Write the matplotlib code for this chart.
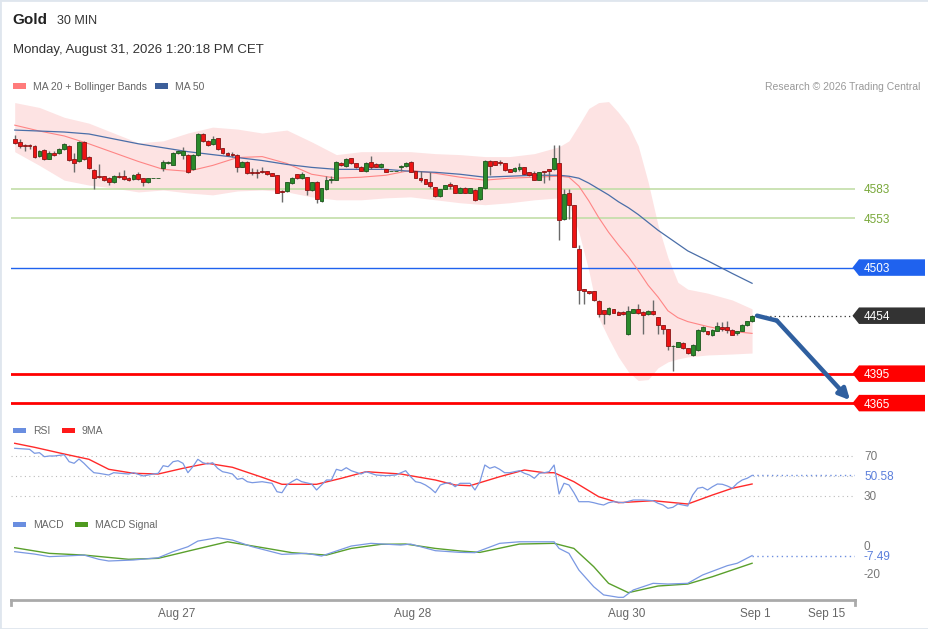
import numpy as np
import matplotlib.pyplot as plt
from matplotlib.patches import Polygon, Rectangle
from matplotlib.transforms import blended_transform_factory

plt.rcParams['font.family'] = ['Liberation Sans', 'DejaVu Sans']

# 30 min candles, Gold
opens = [4634, 4630.5, 4627.5, 4627.5, 4627.2, 4616.5, 4622.5, 4613.8, 4619.5, 4619.2,
         4623.8, 4626.5, 4613.2, 4611.2, 4631.2, 4615.8, 4602.5, 4596.5, 4595.8, 4594.5,
         4590.5, 4596.5, 4596.5, 4593.8, 4593.2, 4598.5, 4593.8, 4590.5, 4594.2, 4594.2,
         4604.5, 4609.8, 4607.8, 4619.2, 4617.8, 4617.8, 4603.2, 4617.8, 4639.2, 4631.8,
         4628.5, 4634.5, 4624.5, 4619.8, 4618.5, 4617.8, 4605.8, 4610.5, 4600.5, 4599.8,
         4601.2, 4601.2, 4599.2, 4597.2, 4580.5, 4580.5, 4589.2, 4597.8, 4593.8, 4595.2,
         4581.8, 4590.5, 4570.5, 4583.2, 4592.5, 4592.5, 4609.8, 4606.5, 4614.5, 4609.2,
         4605.8, 4601.2, 4610.5, 4608.5, 4605.2, 4603.2, 4601.2, 4601.2, 4605.8, 4606.5,
         4610.5, 4601.2, 4593.8, 4593.2, 4590.5, 4585.2, 4575.8, 4583.2, 4587.8, 4587.2,
         4579.2, 4584.5, 4579.2, 4581.8, 4572.5, 4583.8, 4611.8, 4611.2, 4610.5, 4609.2,
         4603.2, 4601.2, 4603.8, 4605.2, 4599.8, 4599.2, 4592.5, 4601.2, 4603.2, 4603.2,
         4609.2, 4552.2, 4578.5, 4566.5, 4521.6, 4480.9, 4478.9, 4478.9, 4469.3, 4459.8,
         4455.7, 4460.5, 4457.8, 4457.8, 4435.4, 4457.1, 4461.1, 4457.8, 4455.7, 4458.5,
         4452.4, 4444.2, 4440.2, 4423.2, 4422.5, 4426.5, 4421.1, 4413.7, 4419.1, 4438.1,
         4438.1, 4434.0, 4438.8, 4442.8, 4442.8, 4439.5, 4436.7, 4438.8, 4444.2, 4448.3]
closes = [4630, 4627.2, 4626.7, 4626.5, 4615.8, 4621.8, 4613.2, 4619.8, 4618, 4623.8,
          4629.2, 4612.5, 4609.8, 4630.5, 4613.8, 4604.5, 4593.8, 4595, 4592.5, 4590.5,
          4596.5, 4595.2, 4593.2, 4592.5, 4597.2, 4593.2, 4589.8, 4593.8, 4594.2, 4594.2,
          4610.5, 4610.2, 4619.8, 4621.5, 4621.8, 4600.5, 4617.8, 4639.2, 4631.8, 4627.8,
          4633.8, 4623.8, 4619.8, 4617.8, 4617.2, 4605.8, 4610.5, 4599.2, 4599.2, 4599.2,
          4599.8, 4598.5, 4596.5, 4579.2, 4580, 4589.8, 4594.5, 4593.8, 4597.8, 4581.8,
          4589.8, 4572.5, 4583.8, 4592.5, 4593, 4610.5, 4607.2, 4613.8, 4609.2, 4605.2,
          4601.8, 4609.8, 4605.2, 4605.8, 4608.5, 4600.5, 4601.2, 4601.2, 4606.5, 4609.8,
          4600.5, 4594.5, 4592.5, 4588.5, 4585.8, 4575.8, 4583.2, 4587.2, 4585.8, 4579.2,
          4584.5, 4579.2, 4583.8, 4571.8, 4585.2, 4611.8, 4606.5, 4607.8, 4609.2, 4602.5,
          4600.5, 4604.5, 4605.8, 4598.5, 4597.2, 4592.5, 4599.8, 4600.5, 4601.8, 4614.5,
          4551.5, 4577.8, 4566.5, 4524.2, 4480.2, 4478.9, 4476.8, 4470.0, 4455.7, 4455.7,
          4461.9, 4457.1, 4455.0, 4455.7, 4458.5, 4460.5, 4456.4, 4454.4, 4459.1, 4455.7,
          4444.2, 4440.2, 4423.2, 4423.2, 4427.2, 4421.1, 4415.7, 4424.5, 4439.5, 4442.8,
          4435.4, 4439.5, 4443.5, 4440.8, 4439.5, 4434.7, 4438.1, 4444.9, 4448.3, 4454.0]
highs = [4638, 4634, 4629, 4628.5, 4628, 4622.5, 4623.5, 4621.8, 4621.8, 4625,
         4630, 4627.5, 4619.5, 4631.5, 4632, 4616.5, 4603.8, 4608.5, 4596.5, 4595.5,
         4597.5, 4599.8, 4602.5, 4595, 4598.5, 4599.8, 4594.5, 4594.5, 4594.2, 4594.2,
         4612.5, 4611, 4620.5, 4623, 4625.8, 4618.5, 4618.5, 4640, 4640, 4633,
         4637.2, 4635, 4625, 4620.5, 4620.5, 4618.5, 4611.5, 4611, 4604.5, 4603.2,
         4605.2, 4601.5, 4599.5, 4597.5, 4581.5, 4590.5, 4595, 4598.5, 4599.8, 4595.5,
         4590.5, 4591, 4584.5, 4595.8, 4595.8, 4611, 4610.5, 4614.5, 4615, 4609.5,
         4606.5, 4610.5, 4616.5, 4609, 4609, 4603.5, 4601.2, 4601.2, 4607.8, 4610.5,
         4611, 4601.5, 4601.2, 4593.5, 4599.8, 4585.5, 4583.5, 4587.5, 4589.8, 4587.5,
         4585, 4585, 4584.5, 4582.5, 4585.5, 4612.5, 4612.5, 4611.5, 4612.5, 4609.5,
         4603.5, 4605, 4609.2, 4605.5, 4600.5, 4601.2, 4600.5, 4601.8, 4603.8, 4627.8,
         4627.8, 4582.5, 4582.5, 4567, 4526.3, 4481.2, 4479.2, 4479.2, 4470, 4460.3,
         4462.4, 4460.8, 4458.3, 4458.3, 4463.9, 4460.8, 4465.9, 4458.3, 4459.8, 4470,
         4452.7, 4444.9, 4440.5, 4423.7, 4427.7, 4427.2, 4421.6, 4425.2, 4440, 4443.5,
         4438.4, 4440, 4447.6, 4447.6, 4448.3, 4440, 4438.8, 4445.6, 4448.6, 4454.7]
lows = [4629, 4625.2, 4621.2, 4623.8, 4615, 4615.5, 4612.5, 4613.2, 4616.5, 4618.5,
        4623, 4611.5, 4599.8, 4610, 4613, 4603.5, 4583.2, 4593.8, 4591.5, 4587.2,
        4589.5, 4593.8, 4592.5, 4591.5, 4592, 4592.5, 4585.8, 4589.5, 4594.2, 4594.2,
        4601.8, 4608.5, 4607, 4618.5, 4613.8, 4599.5, 4602.5, 4617, 4631, 4627,
        4627.5, 4623, 4619, 4617, 4615.8, 4600.5, 4605, 4598.5, 4597.2, 4594.5,
        4599.2, 4597.2, 4595.8, 4578.5, 4569.8, 4579.5, 4588.5, 4593.2, 4593.2, 4577.2,
        4581, 4568.5, 4569.5, 4581.8, 4589.2, 4591.8, 4606.5, 4605.8, 4608.5, 4604.5,
        4601, 4600.5, 4603.8, 4605.2, 4604.5, 4599.8, 4601.2, 4601.2, 4601.8, 4605.8,
        4599.8, 4593.8, 4590.5, 4587.8, 4583.8, 4575.2, 4575.2, 4582.5, 4583.2, 4578.5,
        4578.5, 4578.5, 4578.5, 4571, 4571.8, 4583.2, 4597.5, 4607.2, 4607.8, 4601.8,
        4599.8, 4600.5, 4601.2, 4597.8, 4596.5, 4591.8, 4591.8, 4589.2, 4592.5, 4602.5,
        4530.8, 4551.5, 4552.2, 4523.5, 4465.9, 4465.9, 4476.1, 4469, 4452.4, 4445.6,
        4455, 4456.4, 4454.4, 4455, 4434.7, 4456.4, 4455.7, 4435.4, 4455, 4455,
        4435.4, 4435.4, 4419.1, 4397.4, 4421.8, 4420.4, 4415, 4413, 4418.4, 4437.4,
        4434.7, 4433.4, 4438.1, 4438.1, 4436.1, 4434.1, 4434.7, 4438.1, 4443.5, 4447.6]

# MA 20 + Bollinger bands and MA 50, read at these candle numbers
bb_idx = [0, 5, 10, 15, 20, 25, 30, 35, 40, 45, 50, 55, 60, 65, 70, 75, 80, 85, 90, 95,
          100, 105, 110, 112, 114, 116, 118, 120, 122, 124, 126, 128, 130, 132, 134, 136,
          140, 145, 149]
bb_upper = [4671, 4666, 4656, 4650, 4640, 4630, 4632, 4640, 4646, 4644, 4640, 4643, 4631,
            4618, 4621, 4621, 4621, 4619, 4618, 4616, 4616, 4619, 4626, 4632, 4648, 4665,
            4671, 4672, 4661, 4648, 4627, 4590, 4546, 4513, 4488, 4481, 4477, 4470, 4461]
bb_lower = [4621, 4607, 4592, 4587, 4584, 4580, 4582, 4579, 4577, 4581, 4582, 4580, 4575,
            4572, 4572, 4574, 4575, 4572, 4569, 4567, 4569, 4572, 4574, 4567, 4539, 4500,
            4452, 4431, 4412, 4397, 4388, 4389, 4401, 4407, 4410, 4412, 4414, 4415, 4416]
ma20 = [4648, 4642, 4637, 4629, 4620, 4611, 4603, 4601, 4607, 4615, 4616, 4609, 4598,
        4594, 4595, 4597, 4602, 4599, 4595, 4592, 4594, 4595, 4596, 4595, 4586, 4571,
        4554, 4539, 4526, 4514, 4500, 4485, 4473, 4459, 4452, 4448, 4443, 4438, 4436]
ma50 = [4643, 4642, 4641, 4639, 4634, 4629, 4625, 4621, 4618, 4615, 4612, 4608, 4605,
        4603, 4603, 4603, 4601, 4600, 4598, 4595, 4596, 4597, 4597, 4596, 4594, 4589,
        4583, 4577, 4570, 4564, 4557, 4549, 4541, 4534, 4527, 4520, 4510, 4497, 4487]

# RSI and its 9 period MA
rsi_idx = [0, 3, 4, 5, 6, 7, 8, 10, 11, 12, 13, 14, 15, 16, 17, 19, 20, 23, 24, 26, 28, 29,
           30, 31, 32, 33, 34, 35, 36, 37, 38, 39, 40, 41, 42, 43, 44, 45, 46, 47, 48, 50,
           52, 53, 54, 55, 56, 57, 58, 60, 61, 62, 63, 64, 65, 66, 67, 68, 70, 71, 72, 73,
           75, 77, 79, 80, 81, 82, 83, 84, 85, 86, 87, 88, 89, 90, 92, 93, 94, 95, 96, 97,
           98, 99, 100, 101, 102, 103, 104, 105, 106, 107, 108, 109, 110, 111, 112, 113,
           114, 116, 117, 118, 119, 120, 121, 123, 125, 127, 129, 130, 131, 132, 133, 134,
           135, 136, 137, 138, 139, 140, 141, 142, 143, 144, 145, 146, 147, 148, 149]
rsi = [77.7, 76.7, 72.7, 73.3, 69.3, 70, 70, 71.3, 64.3, 62.7, 67, 62.7, 57.7, 53.3, 52.7,
       51, 53.3, 52, 53.3, 50, 52, 52.7, 60.3, 59.3, 64.3, 65.3, 62.7, 53.3, 59.3, 66.7,
       63.3, 62, 63.3, 57.7, 54.3, 53.3, 52, 46.7, 47.7, 44.3, 43.3, 44.3, 42.7, 34.3, 33.3,
       41, 44.3, 47, 44.3, 42, 36, 41, 46, 46, 56.7, 55.3, 58.3, 55.3, 52, 54.3, 52.7, 51,
       50.3, 51, 55.3, 49.3, 44.3, 43.3, 41, 37.7, 33.3, 41, 42.7, 43.3, 39.3, 42.7, 42.7,
       36, 44.3, 61, 57.7, 59.3, 56.7, 53.3, 53.3, 54.3, 55.3, 52.7, 51, 47.7, 52.7, 53.3,
       54.3, 61, 32, 42.7, 41, 33.3, 24.3, 24.3, 23.3, 22, 21, 23.3, 24.3, 23.3, 26, 26,
       25.3, 22.7, 21, 17.7, 18.7, 22, 21, 20, 31, 37.7, 38.7, 36, 39.3, 42, 41.7, 40, 37.7,
       42.7, 46, 47.7, 50.58]
rsi_ma_idx = [0, 4, 10, 15, 19, 24, 29, 34, 39, 44, 50, 54, 61, 66, 71, 78, 85, 89, 92, 98,
              103, 107, 109, 113, 118, 122, 129, 136, 141, 145, 149]
rsi_ma = [82.7, 78.7, 72, 66.7, 56.7, 52.7, 52, 57.7, 62.7, 58.7, 48.7, 41.7, 41.7, 47.7,
          54.3, 52, 46, 41, 40.3, 49.3, 56, 53.3, 53.3, 44.3, 29.3, 23.3, 25.3, 22, 31, 37.7,
          42]

# MACD and signal
macd_idx = [0, 4, 7, 10, 14, 17, 19, 24, 29, 32, 35, 37, 41, 44, 48, 54, 59, 62, 64, 68, 72,
            78, 80, 85, 90, 93, 98, 102, 109, 110, 112, 114, 117, 119, 122, 123, 125, 129,
            132, 136, 139, 144, 146, 149]
macd = [-4.7, -6.4, -8.2, -7.8, -7.1, -10.1, -11.3, -10.6, -9, -4.7, -1.2, 2.8, 5.2, 3.5,
        -1.2, -6.6, -5.9, -7.8, -5.4, -0.7, 1.2, 0, 0.7, -4, -5.2, -5.4, 1.2, 2.3, 2.3, -2.4,
        -5.9, -17.7, -29.5, -35.3, -37, -37, -31.8, -27.1, -27.6, -27.1, -21.2, -14.6, -12.9,
        -7.49]
sig_idx = [0, 7, 14, 23, 29, 36, 43, 51, 56, 63, 68, 74, 79, 85, 90, 94, 102, 109, 113, 117,
           120, 124, 130, 136, 141, 149]
macd_sig = [-1.9, -5.9, -7.1, -10.1, -9.4, -3.5, 2.3, -2.4, -5.4, -7.1, -2.4, 0.5, 0.7, -2.4,
            -4.2, -5.2, 0.7, 1.2, -2.4, -15.3, -27.1, -33.7, -29, -27.6, -22.4, -12.9]

# key levels and forecast
green_levels = [4583, 4553]
box_levels = [4503, 4454, 4395, 4365]
box_colors = ['#1f62ee', '#333333', '#ff0000', '#ff0000']
fc_x = [150, 154, 168.8]
fc_y = [4454, 4449, 4368]

tick_pos = [32.8, 80.5, 123.7, 149.6, 164]
tick_lab = ['Aug 27', 'Aug 28', 'Aug 30', 'Sep 1', 'Sep 15']

W, H = 929, 629
fig = plt.figure(figsize=(W / 100, H / 100), dpi=100)

def fx(px):
    return px / W

def fy(py):
    return 1 - py / H

left, right = 11, 855
xlim = (-0.75, 169.8)
ax = fig.add_axes([fx(left), fy(415), fx(right - left), (415 - 95) / H])
ax_r = fig.add_axes([fx(left), fy(512), fx(right - left), (512 - 440) / H])
ax_m = fig.add_axes([fx(left), fy(600), fx(right - left), (600 - 535) / H])
for a in (ax, ax_r, ax_m):
    a.set_xlim(*xlim)
    for s in a.spines.values():
        s.set_visible(False)
    a.set_yticks([])
    a.set_xticks([])
    a.patch.set_alpha(0)

# --- price panel ---
o = np.array(opens)
c = np.array(closes)
idx = np.arange(len(o))
up = c >= o
ax.fill_between(bb_idx, bb_lower, bb_upper, color='#fde3e3', lw=0, zorder=0)
ax.plot(bb_idx, ma20, color='#ff8585', lw=0.8, zorder=2)
ax.plot(bb_idx, ma50, color='#4a6ea8', lw=0.9, zorder=2)

for lv in green_levels:
    ax.axhline(lv, color='#c2dea8', lw=1.2, zorder=1)
ax.axhline(4503, color='#1f62ee', lw=1, zorder=1)
ax.axhline(4395, color='#ff0000', lw=2, zorder=1)
ax.axhline(4365, color='#ff0000', lw=2, zorder=1)
ax.hlines(4454, 150.8, xlim[1], color='#333333', lw=0.9, linestyles=(0, (1, 2.5)), zorder=1)

ax.vlines(idx, lows, highs, color='#6a6a6a', lw=1, zorder=3)
ax.bar(idx, c - o, bottom=o, width=0.78,
       color=np.where(up, '#2b8a2b', '#ee1414'),
       edgecolor=np.where(up, '#1b551b', '#8a1515'), lw=0.6, zorder=4)

ax.plot(fc_x[:2], fc_y[:2], color='#2f5f9f', lw=3.2, solid_capstyle='round', zorder=5)
ax.annotate('', xy=(fc_x[2], fc_y[2]), xytext=(fc_x[1], fc_y[1]),
            arrowprops=dict(arrowstyle='-|>', color='#2f5f9f', lw=3.2,
                            mutation_scale=16, shrinkA=0, shrinkB=0), zorder=5)
ax.set_ylim(4352.9, 4678.7)

tr = blended_transform_factory(fig.transFigure, ax.transData)
for lv in green_levels:
    ax.text(fx(864), lv, str(lv), transform=tr, color='#79a83a', fontsize=8.5,
            va='center_baseline', ha='left')
hh = 8.4
for lv, col in zip(box_levels, box_colors):
    poly = Polygon([(fx(852.5), lv), (fx(859), lv + hh), (fx(925), lv + hh),
                    (fx(925), lv - hh), (fx(859), lv - hh)],
                   closed=True, transform=tr, facecolor=col, edgecolor='none')
    fig.add_artist(poly)
    fig.text(fx(864), 0, str(lv), transform=tr, color='white', fontsize=8.5,
             va='center_baseline', ha='left').set_y(lv)

# --- RSI panel ---
ax_r.set_ylim(14, 86)
for lv in (70, 50, 30):
    ax_r.axhline(lv, color='#bbbbbb', lw=0.8, ls=(0, (1, 3)))
ax_r.plot(rsi_ma_idx, rsi_ma, color='#ff2a2a', lw=1)
ax_r.plot(rsi_idx, rsi, color='#7a98e2', lw=0.9)
ax_r.hlines(rsi[-1], rsi_idx[-1], xlim[1], color='#6f8fe0', lw=1, linestyles=(0, (1, 2.5)))
trr = blended_transform_factory(fig.transFigure, ax_r.transData)
for lv in (70, 30):
    ax_r.text(fx(864), lv, str(lv), transform=trr, color='#777777', fontsize=8.5,
              va='center_baseline')
ax_r.text(fx(864), rsi[-1], '%.2f' % rsi[-1], transform=trr, color='#5b7fdb',
          fontsize=8.5, va='center_baseline')

# --- MACD panel ---
ax_m.set_ylim(-38.9, 7.1)
ax_m.plot(sig_idx, macd_sig, color='#5aa02c', lw=1)
ax_m.plot(macd_idx, macd, color='#7a98e2', lw=0.9)
ax_m.hlines(macd[-1], macd_idx[-1], xlim[1], color='#6f8fe0', lw=1, linestyles=(0, (1, 2.5)))
trm = blended_transform_factory(fig.transFigure, ax_m.transData)
for lv in (0, -20):
    ax_m.text(fx(864), lv, str(lv), transform=trm, color='#777777', fontsize=8.5,
              va='center_baseline')
ax_m.text(fx(864), macd[-1], '%.2f' % macd[-1], transform=trm, color='#5b7fdb',
          fontsize=8.5, va='center_baseline')

ax_m.spines['bottom'].set_visible(True)
ax_m.spines['bottom'].set_color('#aaaaaa')
ax_m.spines['bottom'].set_linewidth(2)
ax_m.set_xticks(tick_pos)
ax_m.set_xticklabels(tick_lab, color='#666666', fontsize=8.5)
ax_m.tick_params(axis='x', length=0, pad=6)
for xe in (0, 1):
    ax_m.plot([xe, xe], [0, -0.08], transform=ax_m.transAxes, color='#aaaaaa', lw=2,
              clip_on=False)

# --- header texts and legends ---
fig.text(fx(12), fy(19), 'Gold', fontsize=11, fontweight='bold', color='#222222',
         va='center_baseline')
fig.text(fx(57), fy(19), '30 MIN', fontsize=9, color='#333333', va='center_baseline')
fig.text(fx(13), fy(48), 'Monday, August 31, 2026 1:20:18 PM CET', fontsize=9.5,
         color='#333333', va='center_baseline')
fig.text(fx(920), fy(86), 'Research \u00a9 2026 Trading Central', fontsize=7.5,
         color='#999999', va='center_baseline', ha='right')

def legend_item(px, py, col, label):
    fig.add_artist(Rectangle((fx(px), fy(py + 2.5)), fx(13), 5 / H,
                             transform=fig.transFigure, color=col, lw=0))
    fig.text(fx(px + 20), fy(py), label, fontsize=7.5, color='#666666',
             va='center_baseline')

legend_item(13, 86, '#ff7b7b', 'MA 20 + Bollinger Bands')
legend_item(155, 86, '#3d5f9a', 'MA 50')
legend_item(13, 430, '#6a8ee0', 'RSI')
legend_item(62, 430, '#ff1a1a', '9MA')
legend_item(13, 524, '#6a8ee0', 'MACD')
legend_item(75, 524, '#4f9a1f', 'MACD Signal')

fig.add_artist(Rectangle((0, 0), 1, 1, transform=fig.transFigure, fill=False,
                         edgecolor='#dfe6ee', lw=2))

fig.savefig('out.png', dpi=100)
